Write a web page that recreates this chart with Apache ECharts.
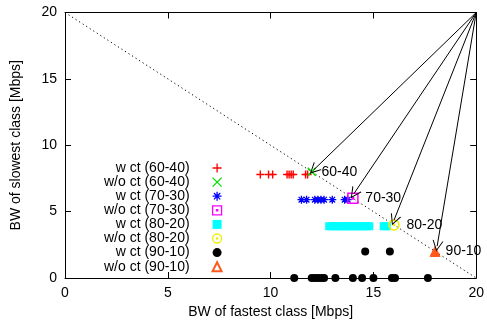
<!DOCTYPE html>
<html>
<head>
<meta charset="utf-8">
<script src="https://cdn.jsdelivr.net/npm/echarts@6/dist/echarts.min.js"></script>
<style>
  html, body { margin: 0; padding: 0; background: #fff; }
  #chart { width: 487px; height: 324px; }
</style>
</head>
<body>
<div id="chart"></div>
<script>
// points, [fastest, slowest] in Mbps
const wct6040 = [[9.5, 7.8], [9.9, 7.8], [10.1, 7.8], [10.8, 7.8], [10.9, 7.8], [11.0, 7.8], [11.1, 7.8], [11.7, 7.8], [11.8, 7.8]];
const woct6040 = [[12, 8]];
const wct7030 = [[11.5, 5.9], [11.75, 5.9], [12.15, 5.9], [12.3, 5.9], [12.45, 5.9], [12.6, 5.9], [13.0, 5.9], [13.6, 5.9], [13.75, 5.9]];
const woct7030 = [[14, 6]];
const wct8020 = [[12.85, 3.9], [13.0, 3.9], [13.15, 3.9], [13.3, 3.9], [13.45, 3.9], [13.6, 3.9], [13.75, 3.9], [13.9, 3.9],
  [14.05, 3.9], [14.2, 3.9], [14.35, 3.9], [14.5, 3.9], [14.65, 3.9], [14.8, 3.9], [15.5, 3.9], [15.65, 3.9]];
const woct8020 = [[16, 4]];
const wct9010 = [[11.15, 0], [12.0, 0], [12.15, 0], [12.3, 0], [12.45, 0], [12.6, 0], [13.15, 0], [14.0, 0], [14.45, 0],
  [15.0, 0], [15.9, 0], [16.05, 0], [17.65, 0], [14.6, 2], [15.8, 2]];
const woct9010 = [[18, 2]];

const arrowStart = [20, 20];
const arrowEnds = [[12.1, 8.15], [14.05, 6.35], [16.0, 4.35], [18.1, 2.4]];
const fairLine = [[0, 20], [20, 0]];
const ticks = { min: 0, max: 20, interval: 5 };

const font = 'Liberation Sans, Arial, Helvetica, sans-serif';

const plus = 'path://M0,5L10,5M5,0L5,10';
const cross = 'path://M0,0L10,10M0,10L10,0';
const star = 'path://M0,5L10,5M5,0L5,10M1.5,1.5L8.5,8.5M1.5,8.5L8.5,1.5';
const boxDot = 'path://M0,0L10,0L10,10L0,10ZM4.3,4.3L5.7,4.3L5.7,5.7L4.3,5.7Z';
const circDot = 'path://M0,5A5,5,0,1,1,10,5A5,5,0,1,1,0,5ZM4.3,5A0.7,0.7,0,1,1,5.7,5A0.7,0.7,0,1,1,4.3,5Z';
const vHead = 'path://M0,10L5,0L10,10L9,10L5,2L1,10Z';

function pts(name, data, symbol, size, color, fill, bw, tag) {
  const s = {
    name: name,
    type: 'scatter',
    data: data,
    symbol: symbol,
    symbolSize: size,
    itemStyle: { color: fill, borderColor: color, borderWidth: bw, opacity: 1 },
    emphasis: { disabled: true },
    z: 3
  };
  if (tag) {
    s.label = {
      show: true, position: 'right', distance: 5, formatter: tag,
      color: '#000', fontSize: 14, fontFamily: font
    };
  }
  return s;
}

function axis(pos, labels) {
  return {
    type: 'value',
    position: pos,
    min: ticks.min, max: ticks.max, interval: ticks.interval,
    axisLine: { show: true, onZero: false, lineStyle: { color: '#000', width: 1 } },
    axisTick: { show: true, inside: true, length: 6, lineStyle: { color: '#000' } },
    axisLabel: { show: labels, color: '#000', fontSize: 14, fontFamily: font, margin: 8 },
    splitLine: { show: false }
  };
}

const myChart = echarts.init(document.getElementById('chart'));

const xBottom = axis('bottom', true);
xBottom.name = 'BW of fastest class [Mbps]';
xBottom.nameLocation = 'middle';
xBottom.nameGap = 27;
xBottom.nameTextStyle = { color: '#000', fontSize: 14, fontFamily: font };
const yLeft = axis('left', true);
yLeft.name = 'BW of slowest class [Mbps]';
yLeft.nameLocation = 'middle';
yLeft.nameGap = 42;
yLeft.nameTextStyle = { color: '#000', fontSize: 14, fontFamily: font };

const option = {
  animation: false,
  backgroundColor: '#fff',
  grid: { left: 65, right: 8, top: 12.5, bottom: 44.5 },
  legend: {
    orient: 'vertical',
    align: 'right',
    left: 99,
    top: 156,
    itemWidth: 9,
    itemHeight: 9,
    itemGap: 0.1,
    selectedMode: false,
    textStyle: { color: '#000', fontSize: 14, lineHeight: 12, fontFamily: font, padding: [0, 18, 0, 0] },
    data: [
      { name: 'w ct (60-40)', itemStyle: { borderWidth: 1.3 } },
      { name: 'w/o ct (60-40)', itemStyle: { borderWidth: 1.3 } },
      { name: 'w ct (70-30)', itemStyle: { borderWidth: 1.3 } },
      { name: 'w/o ct (70-30)', itemStyle: { borderWidth: 1.3 } },
      'w ct (80-20)',
      { name: 'w/o ct (80-20)', itemStyle: { borderWidth: 1.3 } },
      'w ct (90-10)',
      { name: 'w/o ct (90-10)', itemStyle: { color: '#fff', borderWidth: 2 } }
    ]
  },
  xAxis: [xBottom, axis('top', false)],
  yAxis: [yLeft, axis('right', false)],
  series: [
    {
      type: 'line',
      data: fairLine,
      symbol: 'none',
      silent: true,
      lineStyle: { color: '#000', width: 1, type: [1.2, 3] },
      z: 1
    },
    pts('w ct (60-40)', wct6040, plus, 8, '#ff0000', '#ff0000', 1.4),
    pts('w/o ct (60-40)', woct6040, cross, 8, '#00dd00', '#00dd00', 1.5, '60-40'),
    pts('w ct (70-30)', wct7030, star, 8, '#0000ff', '#0000ff', 1.3),
    pts('w/o ct (70-30)', woct7030, boxDot, 10, '#ff00ff', 'none', 1.5, '70-30'),
    pts('w ct (80-20)', wct8020, 'rect', 8, '#00ffff', '#00ffff', 0),
    pts('w/o ct (80-20)', woct8020, circDot, 10, '#eeee00', 'none', 1.5, '80-20'),
    pts('w ct (90-10)', wct9010, 'circle', 8, '#000000', '#000000', 0),
    pts('w/o ct (90-10)', woct9010, 'triangle', 10, '#ff5a1a', '#ff5a1a', 1, '90-10'),
    {
      type: 'lines',
      coordinateSystem: 'cartesian2d',
      silent: true,
      symbol: ['none', vHead],
      symbolSize: [9, 11],
      lineStyle: { color: '#000', width: 1, opacity: 1 },
      data: arrowEnds.map(e => ({ coords: [arrowStart, e] })),
      z: 4
    }
  ]
};

myChart.setOption(option);
</script>
</body>
</html>
